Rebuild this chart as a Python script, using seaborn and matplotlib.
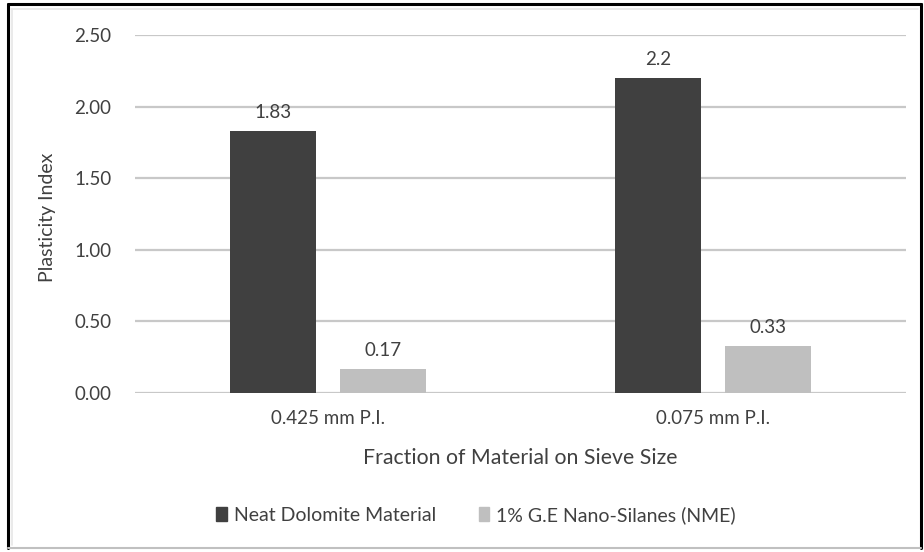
import numpy as np
import pandas as pd
import matplotlib.pyplot as plt
import seaborn as sns
from matplotlib.lines import Line2D

# Data
sieve_sizes = ['0.425 mm P.I.', '0.075 mm P.I.']
series_names = ['Neat Dolomite Material', '1% G.E Nano-Silanes (NME)']
neat_values = [1.83, 2.2]
nano_values = [0.17, 0.33]
neat_labels = ['1.83', '2.2']
nano_labels = ['0.17', '0.33']
y_ticks = [0.0, 0.5, 1.0, 1.5, 2.0, 2.5]

df = pd.DataFrame({
    'size': sieve_sizes * 2,
    'series': [series_names[0]] * 2 + [series_names[1]] * 2,
    'pi': neat_values + nano_values,
})

sns.set_style('white')
plt.rcParams['font.family'] = ['Lato', 'DejaVu Sans']
text_col = '#404040'

fig = plt.figure(figsize=(9.24, 5.52), dpi=100)
ax = fig.add_axes([135 / 924, 1 - 393 / 552, (906 - 135) / 924, (393 - 35) / 552])

sns.barplot(data=df, x='size', y='pi', hue='series', order=sieve_sizes,
            hue_order=series_names, palette=['#404040', '#bfbfbf'],
            width=0.57, gap=0.218, dodge=True, ax=ax, legend=False,
            saturation=1, edgecolor='none', zorder=3)

# value labels
for cont, labs in zip(ax.containers, [neat_labels, nano_labels]):
    ax.bar_label(cont, labels=labs, padding=7, fontsize=13.5, color=text_col)

ax.set_ylim(0, 2.5)
ax.set_xlim(-0.5, 1.5)
ax.set_yticks(y_ticks)
ax.set_yticklabels([f'{t:.2f}' for t in y_ticks])
ax.yaxis.grid(True, color='#c8c8c8', linewidth=1.6, zorder=0)
ax.set_axisbelow(True)
for s in ax.spines.values():
    s.set_visible(False)
ax.tick_params(axis='both', length=0, labelsize=13.5, labelcolor=text_col)
ax.tick_params(axis='y', pad=17)
ax.tick_params(axis='x', pad=12)

ax.set_xlabel('Fraction of Material on Sieve Size', fontsize=15.3, color=text_col)
ax.set_ylabel('Plasticity Index', fontsize=14, color=text_col)
ax.xaxis.set_label_coords(0.5, -0.155)
ax.yaxis.set_label_coords(-0.102, 0.49)

# legend with square markers
handles = [plt.Rectangle((0, 0), 1, 1, color=c) for c in ['#404040', '#bfbfbf']]
fig.legend(handles, series_names, loc='center', bbox_to_anchor=(476 / 924, 1 - 515 / 552),
           ncol=2, frameon=False, fontsize=14, handlelength=0.55, handleheight=0.75,
           handletextpad=0.35, columnspacing=2.2, labelcolor=text_col)

# image frame
fig.add_artist(Line2D([8 / 924, 8 / 924], [4 / 552, 1 - 4 / 552], color='black', lw=2.2, transform=fig.transFigure))
fig.add_artist(Line2D([8 / 924, 921 / 924], [1 - 4 / 552, 1 - 4 / 552], color='black', lw=2.2, transform=fig.transFigure))
fig.add_artist(Line2D([921 / 924, 921 / 924], [4 / 552, 1 - 4 / 552], color='black', lw=2.2, transform=fig.transFigure))
fig.add_artist(Line2D([8 / 924, 921 / 924], [4 / 552, 4 / 552], color='#c0c0c0', lw=1.5, transform=fig.transFigure))
fig.add_artist(Line2D([11 / 924, 918 / 924], [1 - 9 / 552, 1 - 9 / 552], color='#e6e6e6', lw=1.2, transform=fig.transFigure))
fig.add_artist(Line2D([12 / 924, 12 / 924], [7 / 552, 1 - 9 / 552], color='#e6e6e6', lw=1.2, transform=fig.transFigure))

fig.savefig('out.png', dpi=100)
